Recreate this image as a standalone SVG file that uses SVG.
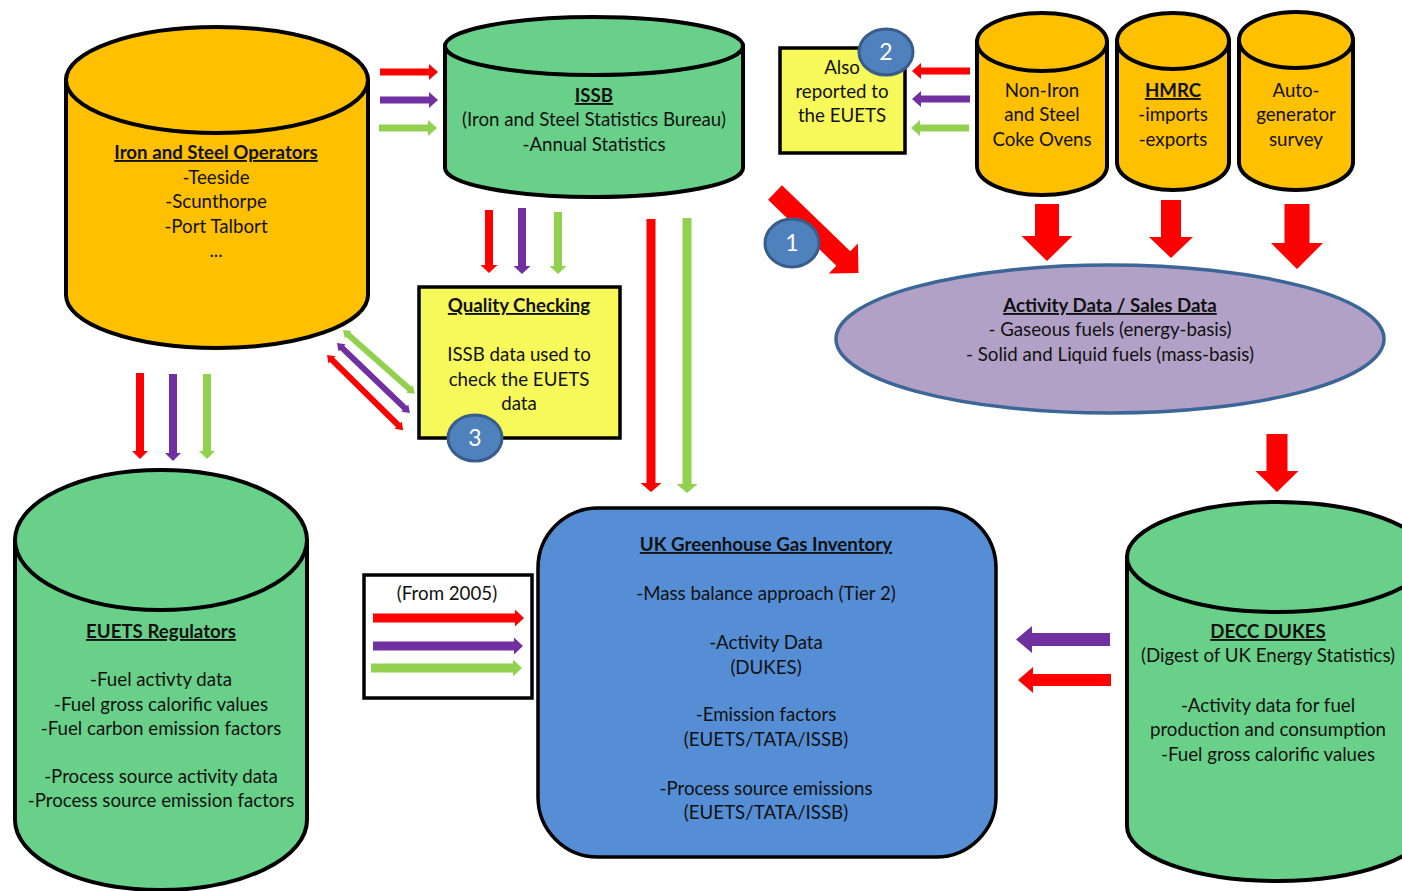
<svg xmlns="http://www.w3.org/2000/svg" width="1402" height="891" viewBox="0 0 1402 891">
<style>
text{font-family:Lato,"Liberation Sans",sans-serif;font-size:18.7px;fill:#111;text-anchor:middle}
.b{font-weight:bold;text-decoration:underline}
.num{fill:#fff;font-size:23px}
.cylO{fill:#ffc000;stroke:#000;stroke-width:4}
.cylG{fill:#69d089;stroke:#000;stroke-width:4}
.box{fill:#f7f95a;stroke:#000;stroke-width:3.5}
.badge{fill:#4f81bd;stroke:#385d8a;stroke-width:3}
.r{fill:#ff0000}.p{fill:#7030a0}.g{fill:#92d050}
</style>
<rect width="1402" height="891" fill="#fff"/>
<g id="connectors">
<polygon class="r" points="380,68.5 429,68.5 429,64 438,72 429,80 429,75.5 380,75.5"/>
<polygon class="p" points="380,96.5 429,96.5 429,92 438,100 429,108 429,103.5 380,103.5"/>
<polygon class="g" points="379,124.5 428,124.5 428,120 437,128 428,136 428,131.5 379,131.5"/>
<polygon class="r" points="970,67.5 921,67.5 921,63 912,71 921,79 921,74.5 970,74.5"/>
<polygon class="p" points="970,95.5 921,95.5 921,91 912,99 921,107 921,102.5 970,102.5"/>
<polygon class="g" points="969,124.5 920,124.5 920,120 911,128 920,136 920,131.5 969,131.5"/>
<polygon class="r" points="485,210 493,210 493,265 497.5,265 489,273 480.5,265 485,265"/>
<polygon class="p" points="518,208 526,208 526,266 530.5,266 522,274 513.5,266 518,266"/>
<polygon class="g" points="554,212 562,212 562,266 566.5,266 558,274 549.5,266 554,266"/>
<polygon class="r" points="646.5,219 655.5,219 655.5,483 661.5,483 651,492 640.5,483 646.5,483"/>
<polygon class="g" points="682.5,218 691.5,218 691.5,484 697.5,484 687,493 676.5,484 682.5,484"/>
<polygon class="r" points="136,373 144,373 144,451 148,451 140,459 132,451 136,451"/>
<polygon class="p" points="169,374 177,374 177,453 181,453 173,461 165,453 169,453"/>
<polygon class="g" points="203,374 211,374 211,451 215,451 207,459 199,451 203,451"/>
<polygon class="r" points="1035,204 1059,204 1059,236 1072.5,236 1047,261 1021.5,236 1035,236"/>
<polygon class="r" points="1161,200 1181,200 1181,237 1193,237 1171,258 1149,237 1161,237"/>
<polygon class="r" points="1284.5,204 1309.5,204 1309.5,243 1323,243 1297,269 1271,243 1284.5,243"/>
<polygon class="r" points="1266.5,434 1287.5,434 1287.5,471 1298.5,471 1277,492 1255.5,471 1266.5,471"/>
<polygon class="p" points="1110,633 1032,633 1032,626 1016,639.5 1032,653 1032,646 1110,646"/>
<polygon class="r" points="1111,674 1033,674 1033,667 1018,680 1033,693 1033,686 1111,686"/>
<polygon class="r" transform="translate(775,192.5) rotate(44)" points="0,-10 95,-10 95,-21 116,0 95,21 95,10 0,10"/>
<polygon class="g" transform="translate(343,330) rotate(41.6)" points="0,0 7,-5 7,-3 89,-3 89,-5 96,0 89,5 89,3 7,3 7,5"/>
<polygon class="p" transform="translate(337,343) rotate(43.8)" points="0,0 7,-5 7,-3 94,-3 94,-5 101,0 94,5 94,3 7,3 7,5"/>
<polygon class="r" transform="translate(327,355) rotate(44.6)" points="0,0 7,-5 7,-3 100,-3 100,-5 107,0 100,5 100,3 7,3 7,5"/>
</g>
<g id="iron-steel-operators">
<path class="cylO" d="M66,80 L66,295 A151,53 0 0 0 368,295 L368,80 Z"/>
<ellipse class="cylO" cx="217" cy="80" rx="151" ry="53"/>
<text class="b" x="216" y="159">Iron and Steel Operators</text>
<text x="216" y="184">-Teeside</text>
<text x="216" y="208">-Scunthorpe</text>
<text x="216" y="233">-Port Talbort</text>
<text x="216" y="257">...</text>
</g>
<g id="issb">
<path class="cylG" d="M445,46 L445,168 A149,29 0 0 0 743,168 L743,46 Z"/>
<ellipse class="cylG" cx="594" cy="46" rx="149" ry="29"/>
<text class="b" x="594" y="102">ISSB</text>
<text x="594" y="126">(Iron and Steel Statistics Bureau)</text>
<text x="594" y="151">-Annual Statistics</text>
</g>
<g id="also-reported">
<rect class="box" x="780" y="48" width="125" height="105"/>
<text x="842" y="74">Also</text>
<text x="842" y="98">reported to</text>
<text x="842" y="122">the EUETS</text>
</g>
<g id="non-iron">
<path class="cylO" d="M977,42 L977,166 A65,29 0 0 0 1107,166 L1107,42 Z"/>
<ellipse class="cylO" cx="1042" cy="42" rx="65" ry="29"/>
<text x="1042" y="97">Non-Iron</text>
<text x="1042" y="121">and Steel</text>
<text x="1042" y="146">Coke Ovens</text>
</g>
<g id="hmrc">
<path class="cylO" d="M1117,41 L1117,162 A56,28 0 0 0 1229,162 L1229,41 Z"/>
<ellipse class="cylO" cx="1173" cy="41" rx="56" ry="28"/>
<text class="b" x="1173" y="97">HMRC</text>
<text x="1173" y="121">-imports</text>
<text x="1173" y="146">-exports</text>
</g>
<g id="autogen">
<path class="cylO" d="M1239,40 L1239,162 A57,28 0 0 0 1353,162 L1353,40 Z"/>
<ellipse class="cylO" cx="1296" cy="40" rx="57" ry="28"/>
<text x="1296" y="97">Auto-</text>
<text x="1296" y="121">generator</text>
<text x="1296" y="146">survey</text>
</g>
<g id="activity-data">
<ellipse cx="1110" cy="339" rx="274" ry="74" fill="#b2a1c7" stroke="#3c6696" stroke-width="3.5"/>
<text class="b" x="1110" y="312">Activity Data / Sales Data</text>
<text x="1110" y="336">- Gaseous fuels (energy-basis)</text>
<text x="1110" y="361">- Solid and Liquid fuels (mass-basis)</text>
</g>
<g id="quality-checking">
<rect class="box" x="419" y="287" width="201" height="151"/>
<text class="b" x="519" y="312">Quality Checking</text>
<text x="519" y="361">ISSB data used to</text>
<text x="519" y="386">check the EUETS</text>
<text x="519" y="410">data</text>
</g>
<g id="euets-regulators">
<path class="cylG" d="M15,540 L15,820 A146,70 0 0 0 307,820 L307,540 Z"/>
<ellipse class="cylG" cx="161" cy="540" rx="146" ry="70"/>
<text class="b" x="161" y="638">EUETS Regulators</text>
<text x="161" y="686">-Fuel activty data</text>
<text x="161" y="711">-Fuel gross calorific values</text>
<text x="161" y="735">-Fuel carbon emission factors</text>
<text x="161" y="783">-Process source activity data</text>
<text x="161" y="807">-Process source emission factors</text>
</g>
<g id="from-2005">
<rect x="364" y="575" width="168" height="123" fill="#fff" stroke="#000" stroke-width="3.5"/>
<text x="447" y="600">(From 2005)</text>
<polygon class="r" points="373,613.5 515,613.5 515,609.5 524,618 515,626.5 515,622.5 373,622.5"/>
<polygon class="p" points="373,641.5 514,641.5 514,637.5 523,646 514,654.5 514,650.5 373,650.5"/>
<polygon class="g" points="371,663.5 513,663.5 513,659.5 522,668 513,676.5 513,672.5 371,672.5"/>
</g>
<g id="ghg-inventory">
<rect x="538" y="508" width="458" height="349" rx="60" ry="60" fill="#558ed5" stroke="#000" stroke-width="3.5"/>
<text class="b" x="766" y="551">UK Greenhouse Gas Inventory</text>
<text x="766" y="600">-Mass balance approach (Tier 2)</text>
<text x="766" y="649">-Activity Data</text>
<text x="766" y="674">(DUKES)</text>
<text x="766" y="721">-Emission factors</text>
<text x="766" y="746">(EUETS/TATA/ISSB)</text>
<text x="766" y="795">-Process source emissions</text>
<text x="766" y="819">(EUETS/TATA/ISSB)</text>
</g>
<g id="decc-dukes">
<path class="cylG" d="M1127,557 L1127,826 A150,55 0 0 0 1427,826 L1427,557 Z"/>
<ellipse class="cylG" cx="1277" cy="557" rx="150" ry="55"/>
<text class="b" x="1268" y="638">DECC DUKES</text>
<text x="1268" y="662">(Digest of UK Energy Statistics)</text>
<text x="1268" y="712">-Activity data for fuel</text>
<text x="1268" y="736">production and consumption</text>
<text x="1268" y="761">-Fuel gross calorific values</text>
</g>
<g id="badge-1">
<ellipse class="badge" cx="792" cy="243" rx="27" ry="24"/>
<text class="num" x="792" y="251">1</text>
</g>
<g id="badge-2">
<ellipse class="badge" cx="886" cy="52" rx="27" ry="23"/>
<text class="num" x="886" y="60">2</text>
</g>
<g id="badge-3">
<ellipse class="badge" cx="475" cy="438" rx="27" ry="23"/>
<text class="num" x="475" y="446">3</text>
</g>
</svg>
